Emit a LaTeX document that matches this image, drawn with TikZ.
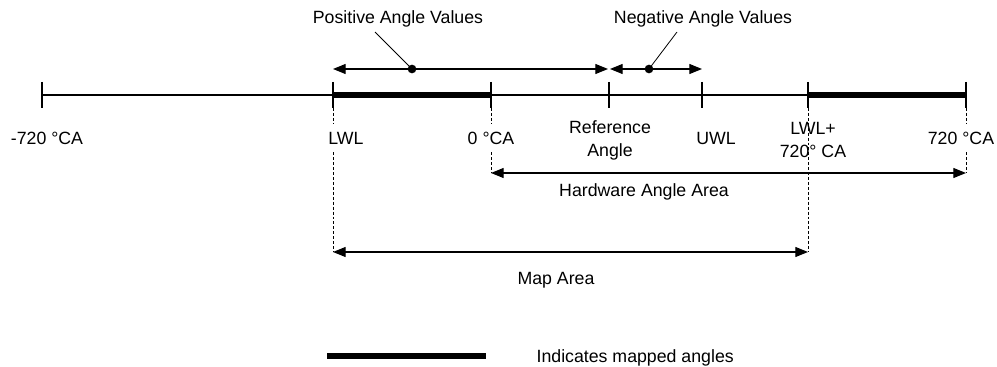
\documentclass[tikz,border=0pt]{standalone}
\usepackage{fontspec}
\setmainfont{Liberation Sans}
\usetikzlibrary{calc, positioning}
\usetikzlibrary{arrows.meta}

\tikzset{
    axisline/.style={line width=0.9pt},
    mapped/.style={line width=4.6pt},
    guide/.style={line width=0.6pt, dash pattern=on 2.2pt off 1.5pt},
    span/.style={line width=0.8pt, {Triangle[length=9.5pt,width=7.5pt]}-{Triangle[length=9.5pt,width=7.5pt]}},
    lbl/.style={font=\fontsize{13.3}{17.2}\selectfont, align=center, inner sep=1pt},
    cover/.style={fill=white, inner ysep=6pt},
    dot/.style={circle, fill, inner sep=0pt, minimum size=6.5pt},
}

\begin{document}
\begin{tikzpicture}[x=0.75pt, y=-0.75pt]
    \useasboundingbox (0,0) rectangle (997,367);

    % positions on the axis
    \coordinate (m720) at (42,95);
    \coordinate (lwl) at (333,95);
    \coordinate (zero) at (491,95);
    \coordinate (ref) at (609,95);
    \coordinate (uwl) at (702,95);
    \coordinate (lwlp) at (808,95);
    \coordinate (p720) at (966,95);
    \coordinate (hw) at (0,173);
    \coordinate (map) at (0,252);

    % dashed guides
    \draw[guide] ($(lwl)+(0,13)$) -- (lwl |- map);
    \draw[guide] ($(zero)+(0,13)$) -- (zero |- hw);
    \draw[guide] ($(lwlp)+(0,13)$) -- (lwlp |- map);
    \draw[guide] ($(p720)+(0,13)$) -- (p720 |- hw);

    % axis
    \draw[axisline] (m720) -- (p720);
    \draw[mapped] (lwl) -- (zero);
    \draw[mapped] (lwlp) -- (p720);
    \foreach \t in {m720, lwl, zero, ref, uwl, lwlp, p720}
        \draw[axisline] ($(\t)+(0,-13)$) -- ($(\t)+(0,13)$);

    % tick labels
    \node[lbl] (m720lbl) at (47,138) {-720 °CA};
    \node[lbl, cover] (lwllbl) at (346,138) {LWL};
    \node[lbl, cover] (zerolbl) at (491,138) {0 °CA};
    \node[lbl] (reflbl) at (610,140) {Reference\\Angle};
    \node[lbl] (uwllbl) at (716,138) {UWL};
    \node[lbl] (lwlplbl) at (813,140) {LWL+\\720° CA};
    \node[lbl, cover] (p720lbl) at (961,138) {720 °CA};

    % angle directions
    \draw[span] (lwl |- 0,69) -- ($(ref |- 0,69)+(-1,0)$);
    \draw[span] ($(ref |- 0,69)+(1,0)$) -- (uwl |- 0,69);
    \node[dot] (posdot) at (412,69) {};
    \node[dot] (negdot) at (649,69) {};
    \node[lbl] (poslbl) at (398,19) {Positive Angle Values};
    \node[lbl] (neglbl) at (703,19) {Negative Angle Values};
    \coordinate (posend) at (375,32);
    \coordinate (negend) at (677,32);
    \draw[line width=0.6pt] (posdot.center) -- (posend);
    \draw[line width=0.6pt] (negdot.center) -- (negend);

    % areas
    \draw[span] (zero |- hw) -- (p720 |- hw);
    \node[lbl] (hwlbl) at (644,192) {Hardware Angle Area};
    \draw[span] (lwl |- map) -- (lwlp |- map);
    \node[lbl] (maplbl) at (556,280) {Map Area};

    % legend
    \coordinate (keya) at (327,356);
    \coordinate (keyb) at (486,356);
    \draw[mapped] (keya) -- (keyb);
    \node[lbl, anchor=west] (keylbl) at (535,358) {Indicates mapped angles};
\end{tikzpicture}
\end{document}
